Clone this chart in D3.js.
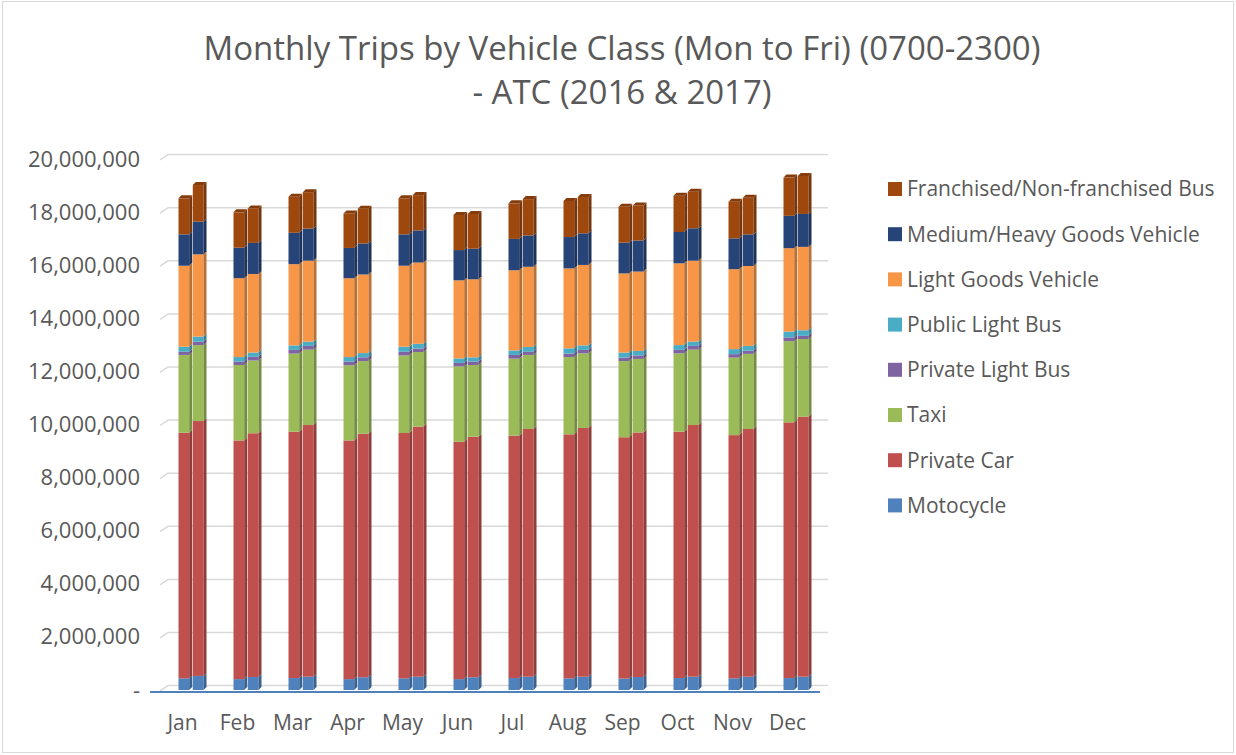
<!DOCTYPE html>
<html>
<head>
<meta charset="utf-8">
<script src="https://cdn.jsdelivr.net/npm/d3@7"></script>
<style>
  html, body { margin: 0; padding: 0; background: #fff; }
  svg { display: block; }
  text { font-family: "Open Sans", "Noto Sans", sans-serif; fill: #595959; }
</style>
</head>
<body>
<svg id="chart" width="1236" height="755"></svg>
<script>
const months = ["Jan","Feb","Mar","Apr","May","Jun","Jul","Aug","Sep","Oct","Nov","Dec"];
const years = ["2016","2017"];
const seriesNames = ["Motocycle","Private Car","Taxi","Private Light Bus","Public Light Bus","Light Goods Vehicle","Medium/Heavy Goods Vehicle","Franchised/Non-franchised Bus"];
const seriesColors = ["#4F81BD","#C0504D","#9BBB59","#8064A2","#4BACC6","#F79646","#264478","#9E480E"];
const yTicks = [0,2000000,4000000,6000000,8000000,10000000,12000000,14000000,16000000,18000000,20000000];

const moto2016 = [440000,410000,450000,410000,440000,410000,450000,440000,430000,450000,440000,450000];
const moto2017 = [530000,490000,500000,480000,500000,480000,500000,500000,490000,500000,500000,500000];
const car2016  = [9250000,8990000,9280000,8990000,9240000,8940000,9130000,9190000,9090000,9280000,9160000,9630000];
const car2017  = [9600000,9180000,9480000,9170000,9420000,9060000,9330000,9370000,9210000,9480000,9330000,9790000];
const taxi2016 = [2930000,2840000,2940000,2830000,2920000,2840000,2900000,2910000,2870000,2950000,2920000,3060000];
const taxi2017 = [2860000,2740000,2840000,2740000,2810000,2700000,2790000,2810000,2770000,2840000,2830000,2930000];
const plb2016  = [120000,130000,140000,140000,140000,130000,140000,130000,130000,130000,130000,140000];
const plb2017  = [130000,140000,140000,140000,130000,130000,120000,130000,130000,140000,120000,120000];
const pub2016  = [190000,170000,170000,170000,190000,170000,170000,200000,190000,180000,190000,220000];
const pub2017  = [190000,160000,160000,160000,180000,160000,180000,170000,170000,160000,180000,210000];
const lgv2016  = [3050000,2970000,3060000,2970000,3050000,2940000,3020000,3010000,2980000,3080000,3010000,3140000];
const lgv2017  = [3100000,2960000,3050000,2960000,3060000,2940000,3020000,3030000,2990000,3050000,3010000,3140000];
const mhgv2016 = [1180000,1150000,1180000,1140000,1180000,1140000,1180000,1180000,1160000,1180000,1160000,1220000];
const mhgv2017 = [1230000,1170000,1210000,1170000,1210000,1150000,1180000,1190000,1170000,1220000,1190000,1240000];
const bus2016  = [1360000,1330000,1360000,1300000,1360000,1320000,1340000,1360000,1350000,1370000,1380000,1440000];
const bus2017  = [1380000,1300000,1370000,1310000,1330000,1310000,1370000,1370000,1320000,1380000,1380000,1430000];

const seriesByYear = {
  "2016": [moto2016, car2016, taxi2016, plb2016, pub2016, lgv2016, mhgv2016, bus2016],
  "2017": [moto2017, car2017, taxi2017, plb2017, pub2017, lgv2017, mhgv2017, bus2017]
};

const rows = [];
months.forEach((m, i) => {
  years.forEach(yr => {
    const r = { month: m, year: yr };
    seriesNames.forEach((s, k) => { r[s] = seriesByYear[yr][k][i]; });
    rows.push(r);
  });
});

const svg = d3.select("#chart");

svg.append("rect").attr("x", 2.5).attr("y", 1.5).attr("width", 1231).attr("height", 751)
  .attr("fill", "#fff").attr("stroke", "#d9d9d9").attr("stroke-width", 1);

const title = svg.append("g").attr("text-anchor", "middle");
title.append("text").attr("x", 622).attr("y", 60).attr("font-size", 33).text("Monthly Trips by Vehicle Class (Mon to Fri) (0700-2300)");
title.append("text").attr("x", 622).attr("y", 104).attr("font-size", 33).text("- ATC (2016 & 2017)");

const y = d3.scaleLinear().domain([0, 20000000]).range([690, 159]);
const x0 = d3.scaleBand().domain(months).range([165, 825]);
const xLabel = d3.scaleBand().domain(months).range([155, 815]);
const x1 = d3.scaleBand().domain(years).range([0, 28]).paddingInner(0.04);

const depthX = 3, depthY = -3;
const backOff = 4.4;

const grid = svg.append("g");
yTicks.forEach(t => {
  const yy = y(t);
  grid.append("path")
    .attr("d", `M160,${yy + 1}L168,${yy - backOff}L828,${yy - backOff}`)
    .attr("fill", "none").attr("stroke", "#d9d9d9").attr("stroke-width", 1.5);
});

svg.append("line").attr("x1", 150).attr("x2", 820).attr("y1", y(0) + 2).attr("y2", y(0) + 2)
  .attr("stroke", "#4F81BD").attr("stroke-width", 2.2);

const yAxis = d3.axisLeft(y).tickValues(yTicks).tickSize(0).tickPadding(8)
  .tickFormat(d => d === 0 ? "-" : d3.format(",")(d));
svg.append("g").attr("transform", "translate(148,0)").call(yAxis)
  .call(g => g.select(".domain").remove())
  .call(g => g.selectAll("text").attr("font-size", 22).attr("fill", "#595959")
    .style("font-family", '"Open Sans", sans-serif'));

const xAxis = d3.axisBottom(xLabel).tickSize(0).tickPadding(0);
svg.append("g").attr("transform", "translate(0,715)").call(xAxis)
  .call(g => g.select(".domain").remove())
  .call(g => g.selectAll("text").attr("font-size", 21).attr("fill", "#595959")
    .style("font-family", '"Open Sans", sans-serif'));

const stack = d3.stack().keys(seriesNames);
const stacked = stack(rows);

const barsG = svg.append("g");
const barW = x1.bandwidth() - depthX;

rows.forEach((row, ri) => {
  const bx = x0(row.month) + x0.bandwidth() / 2 - 14 + x1(row.year);
  const g = barsG.append("g");
  stacked.forEach((layer, k) => {
    const seg = layer[ri];
    const yTop = y(seg[1]);
    const yBot = y(seg[0]);
    const c = seriesColors[k];
    g.append("rect").attr("x", bx).attr("y", yTop).attr("width", barW).attr("height", Math.max(0, yBot - yTop))
      .attr("fill", c);
    g.append("path")
      .attr("d", `M${bx + barW},${yBot}L${bx + barW},${yTop}L${bx + barW + depthX},${yTop + depthY}L${bx + barW + depthX},${yBot + depthY}Z`)
      .attr("fill", d3.color(c).darker(0.8));
    if (k === seriesNames.length - 1) {
      g.append("path")
        .attr("d", `M${bx},${yTop}L${bx + depthX},${yTop + depthY}L${bx + barW + depthX},${yTop + depthY}L${bx + barW},${yTop}Z`)
        .attr("fill", d3.color(c).darker(0.5));
    }
  });
});

const legendOrder = seriesNames.slice().reverse();
const legendColors = seriesColors.slice().reverse();
const legend = svg.append("g");
legendOrder.forEach((name, i) => {
  const cy = 189 + i * 45.2;
  legend.append("rect").attr("x", 888).attr("y", cy - 7).attr("width", 14).attr("height", 14).attr("fill", legendColors[i]);
  legend.append("text").attr("x", 907).attr("y", cy).attr("dy", "0.35em").attr("font-size", 21).text(name);
});
</script>
</body>
</html>
